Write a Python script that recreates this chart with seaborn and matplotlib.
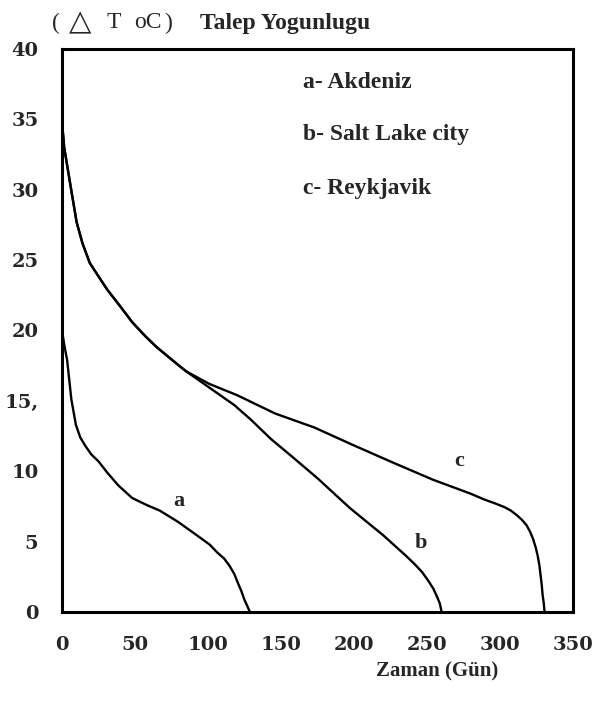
import pandas as pd
import matplotlib
matplotlib.use("Agg")
import matplotlib.pyplot as plt
import seaborn as sns

# upper part shared by curves b and c (Gun, delta T)
common_x = [0, 1.5, 5, 10, 14, 19, 24, 31, 40, 48, 57, 65, 72, 79, 85]
common_y = [34.8, 33.0, 30.8, 27.7, 26.2, 24.8, 24.0, 22.9, 21.7, 20.6, 19.6, 18.8, 18.2, 17.6, 17.1]

a_x = [0, 1.5, 3.5, 6.4, 9.5, 12.5, 16, 20, 25, 31, 38.5, 48, 58, 67, 79.5, 93, 101, 106.6,
       111, 114.6, 118, 120.3, 122.8, 124.8, 127, 128.7]
a_y = [20, 19.0, 17.9, 15.1, 13.3, 12.4, 11.8, 11.2, 10.7, 9.9, 9.0, 8.1, 7.6, 7.2, 6.4, 5.4,
       4.8, 4.2, 3.8, 3.3, 2.7, 2.1, 1.5, 0.9, 0.4, 0]

b_x = common_x + [96, 107, 118, 129, 143, 158, 175, 197, 220, 235.5, 241.5, 246.6, 251,
                  254.3, 256.8, 258.8, 260]
b_y = common_y + [16.3, 15.5, 14.7, 13.7, 12.3, 11.0, 9.5, 7.4, 5.45, 4.0, 3.4, 2.84, 2.2,
                  1.66, 1.1, 0.6, 0]

c_x = common_x + [101, 120, 146, 173, 198.5, 227, 254, 280, 289, 297, 303, 307.5, 311.6,
                  315, 318.2, 320.6, 322.6, 324.4, 325.8, 327, 327.8, 328.6, 329.2, 330, 330.5]
c_y = common_y + [16.2, 15.4, 14.1, 13.1, 11.9, 10.6, 9.4, 8.4, 8.0, 7.7, 7.45, 7.2, 6.87,
                  6.55, 6.16, 5.7, 5.2, 4.6, 4.0, 3.3, 2.6, 1.9, 1.2, 0.6, 0]

legend_lines = ["a- Akdeniz", "b- Salt Lake city", "c- Reykjavik"]
legend_y = [37.6, 33.9, 30.1]
letters = ["a", "b", "c"]
letter_x = [80, 246, 272]
letter_y = [7.9, 4.9, 10.7]
ytick_labels = ["0", "5", "10", "15,", "20", "25", "30", "35", "40"]

df = pd.concat([
    pd.DataFrame({"gun": a_x, "dT": a_y, "curve": "a"}),
    pd.DataFrame({"gun": b_x, "dT": b_y, "curve": "b"}),
    pd.DataFrame({"gun": c_x, "dT": c_y, "curve": "c"}),
])

sns.set_style("white")
plt.rcParams['font.family'] = ['Liberation Serif', 'DejaVu Sans']

fig = plt.figure(figsize=(5.98, 7.01), dpi=100)
ax = fig.add_axes([0.1037, 0.127, 0.8545, 0.8031])

sns.lineplot(data=df, x="gun", y="dT", hue="curve", units="curve", estimator=None,
             sort=False, palette=["black"] * 3, linewidth=1.7, legend=False, ax=ax)

ax.set_xlim(0, 350)
ax.set_ylim(0, 40)
ax.set_xticks(range(0, 351, 50))
ax.set_yticks(range(0, 41, 5))
ax.set_yticklabels(ytick_labels)
ax.set_ylabel("")
ax.set_xlabel("Zaman (Gün)", fontsize=15, fontweight="bold", va="center")
ax.xaxis.set_label_coords((437 - 62) / 511, -60 / 563)
for s in ax.spines.values():
    s.set_color("black")
    s.set_linewidth(2.2)
ax.tick_params(axis="both", direction="out", length=5, width=1.5, color="black")
ax.tick_params(axis="x", pad=12)
ax.tick_params(axis="y", pad=12)
for lab in ax.get_xticklabels() + ax.get_yticklabels():
    lab.set_fontfamily("DejaVu Serif")
    lab.set_fontweight("bold")
    lab.set_fontsize(14)

for t, yy in zip(legend_lines, legend_y):
    ax.text(165, yy, t, fontsize=17, fontweight="bold", va="center", ha="left")
for t, xx, yy in zip(letters, letter_x, letter_y):
    ax.text(xx, yy, t, fontsize=16, fontweight="bold", va="center", ha="center")

# y-axis unit, drawn piece by piece like the scan
unit_parts = ["(", "△", "T", "oC", ")"]
unit_px = [52, 69, 107, 134, 164]
unit_size = [17, 21, 17, 17, 17]
for t, px, fs in zip(unit_parts, unit_px, unit_size):
    fig.text(px / 598, 1 - 23 / 701, t, fontsize=fs, va="center", ha="left",
             family=["Liberation Serif", "DejaVu Sans"])
fig.text(200 / 598, 1 - 23 / 701, "Talep Yogunlugu", fontsize=17, fontweight="bold",
         va="center", ha="left")

fig.savefig("out.png", dpi=100)
